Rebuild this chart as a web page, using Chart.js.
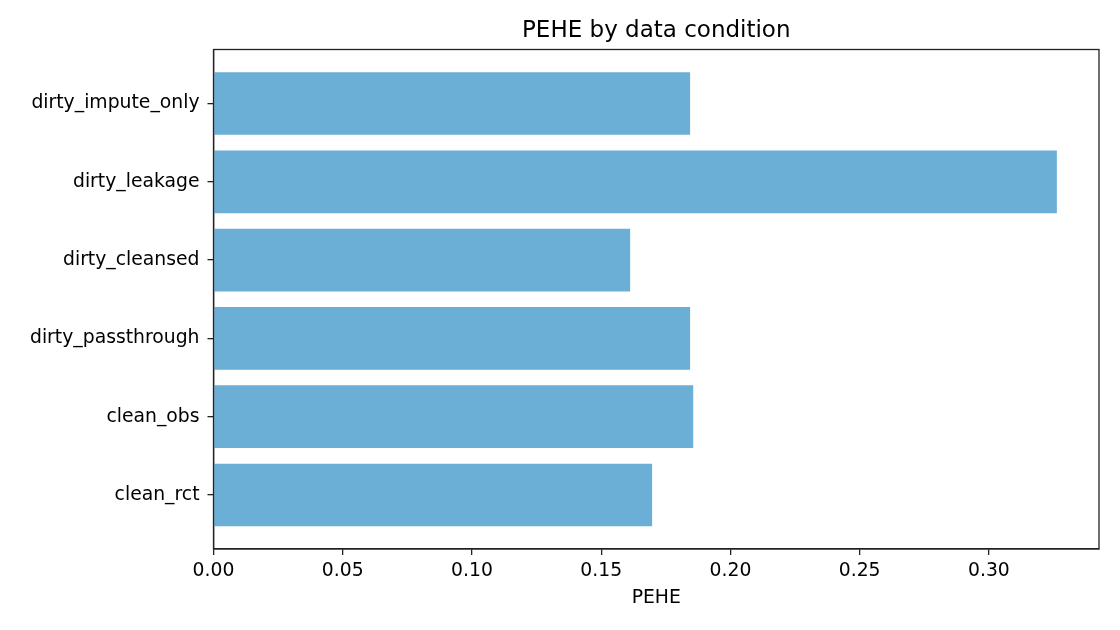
<!DOCTYPE html>
<html>
<head>
<meta charset="utf-8">
<script src="https://cdn.jsdelivr.net/npm/chart.js@4"></script>
<style>
  html, body { margin: 0; padding: 0; background: #fff; }
  #canvas { display: block; }
</style>
</head>
<body>
<canvas id="canvas" width="1120" height="630"></canvas>
<script>
// bottom to top, like the matplotlib barh order
const conditions = ["clean_rct", "clean_obs", "dirty_passthrough", "dirty_cleansed", "dirty_leakage", "dirty_impute_only"];
const pehe = [0.1697, 0.1856, 0.1844, 0.1612, 0.3263, 0.1844];
const xTicks = [0, 0.05, 0.10, 0.15, 0.20, 0.25, 0.30];
const chartTitle = "PEHE by data condition";

const axisColor = "#222";

// box around the plot area plus a title centred over it
const frame = {
    id: "frame",
    afterDraw(chart) {
        const a = chart.chartArea;
        const ctx = chart.ctx;
        ctx.save();
        ctx.strokeStyle = axisColor;
        ctx.lineWidth = 1.3;
        ctx.strokeRect(a.left, a.top, a.right - a.left, a.bottom - a.top);
        ctx.fillStyle = "#000";
        ctx.font = "23px 'DejaVu Sans'";
        ctx.textAlign = "center";
        ctx.textBaseline = "middle";
        ctx.fillText(chartTitle, (a.left + a.right) / 2, 31);
        ctx.restore();
    }
};

const ctx = document.getElementById("canvas").getContext("2d");
new Chart(ctx, {
    type: "bar",
    data: {
        datasets: [{
            data: conditions.map((c, i) => ({ x: pehe[i], y: i })),
            backgroundColor: "#6baed6",
            borderWidth: 0,
            barPercentage: 0.8,
            categoryPercentage: 1.0
        }]
    },
    plugins: [frame],
    options: {
        indexAxis: "y",
        responsive: false,
        animation: false,
        devicePixelRatio: 1,
        layout: { padding: { left: 0, right: 21, top: 49.5, bottom: 0 } },
        scales: {
            x: {
                type: "linear",
                min: 0,
                max: 0.3426,
                afterBuildTicks: (scale) => { scale.ticks = xTicks.map(v => ({ value: v })); },
                afterFit: (scale) => { scale.height = 81; },
                ticks: {
                    color: "#000",
                    font: { family: "DejaVu Sans", size: 18.8 },
                    padding: 5,
                    maxRotation: 0,
                    callback: (v) => v.toFixed(2)
                },
                grid: { drawOnChartArea: false, drawTicks: true, tickLength: 6, color: axisColor, lineWidth: 1.3 },
                border: { display: true, color: axisColor, width: 1.3 },
                title: {
                    display: true,
                    text: "PEHE",
                    color: "#000",
                    font: { family: "DejaVu Sans", size: 18.8 },
                    padding: { top: 0, bottom: 21 }
                }
            },
            y: {
                type: "linear",
                offset: false,
                min: -0.69,
                max: 5.69,
                afterBuildTicks: (scale) => { scale.ticks = conditions.map((c, i) => ({ value: i })); },
                afterFit: (scale) => { scale.width = 213.5; },
                ticks: {
                    color: "#000",
                    font: { family: "DejaVu Sans", size: 18.8 },
                    padding: 8,
                    callback: (v) => conditions[v]
                },
                grid: { offset: false, drawOnChartArea: false, drawTicks: true, tickLength: 6, color: axisColor, lineWidth: 1.3 },
                border: { display: true, color: axisColor, width: 1.3 }
            }
        },
        plugins: {
            legend: { display: false },
            tooltip: { enabled: false },
            title: { display: false }
        }
    }
});
</script>
</body>
</html>
